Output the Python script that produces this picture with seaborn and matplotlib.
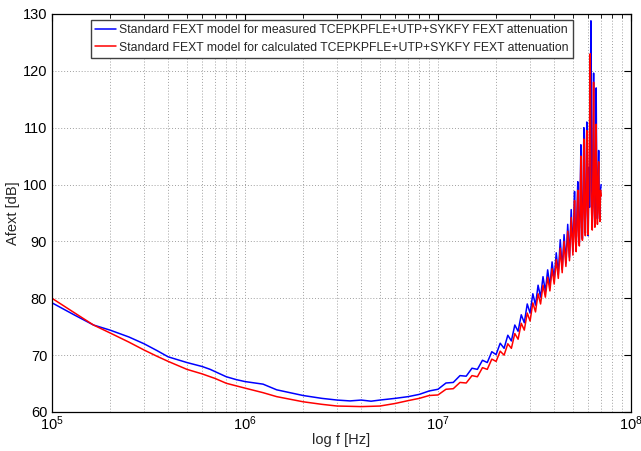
import matplotlib
matplotlib.use("Agg")
import matplotlib.pyplot as plt
import matplotlib.ticker as mticker
import numpy as np
import pandas as pd
import seaborn as sns

# ---- data ----
# smooth part (frequency in Hz)
freq_low_hz = [1.0e5, 1.3e5, 1.64e5, 2.0e5, 2.5e5, 3.0e5, 3.5e5, 4.0e5, 5.0e5, 6.0e5,
               6.6e5, 7.0e5, 8.0e5, 9.0e5, 1.0e6, 1.24e6, 1.46e6, 2.0e6, 2.5e6, 3.0e6,
               3.5e6, 4.0e6, 4.5e6, 5.0e6, 6.0e6, 7.0e6, 8.0e6, 9.0e6]
blue_low = [79.2, 77.1, 75.3, 74.4, 73.2, 72.0, 70.8, 69.7, 68.7, 68.0,
            67.5, 67.1, 66.2, 65.7, 65.35, 64.9, 63.9, 62.9, 62.4, 62.1,
            61.95, 62.1, 61.9, 62.1, 62.4, 62.7, 63.1, 63.7]
red_low = [80.0, 77.5, 75.3, 73.9, 72.3, 70.9, 69.8, 68.9, 67.5, 66.7,
           66.2, 65.9, 65.05, 64.6, 64.2, 63.4, 62.7, 61.8, 61.35, 61.05,
           61.0, 60.95, 61.0, 61.05, 61.5, 62.0, 62.4, 62.9]

# rippled part (frequency in MHz): 1 MHz steps up to 49 MHz
freq_mid_mhz = [10, 11, 12, 13, 14, 15, 16, 17, 18, 19,
                20, 21, 22, 23, 24, 25, 26, 27, 28, 29,
                30, 31, 32, 33, 34, 35, 36, 37, 38, 39,
                40, 41, 42, 43, 44, 45, 46, 47, 48, 49]
blue_mid = [64.0, 65.1, 65.2, 66.4, 66.3, 67.7, 67.5, 69.1, 68.7, 70.6,
            70.1, 72.1, 71.2, 73.5, 72.5, 75.3, 74.2, 77.1, 75.7, 79.0,
            77.4, 80.8, 78.8, 82.3, 80.2, 83.8, 81.2, 85.0, 82.1, 86.4,
            83.3, 88.0, 84.2, 90.3, 85.1, 91.2, 86.2, 93.0, 87.2, 95.6]
red_mid = [63.0, 64.0, 64.1, 65.2, 65.1, 66.4, 66.2, 67.8, 67.5, 69.3,
           68.9, 70.7, 70.0, 72.0, 71.2, 73.8, 72.8, 75.6, 74.4, 77.4,
           76.0, 79.2, 77.6, 80.8, 79.0, 82.3, 80.2, 83.7, 81.3, 85.2,
           82.5, 86.8, 83.5, 88.8, 84.5, 90.0, 85.6, 91.8, 86.6, 94.2]

# spiky part (frequency in MHz): 0.5 MHz steps from 50 to 70 MHz
freq_high_mhz = [50.0, 50.5, 51.0, 51.5, 52.0, 52.5, 53.0, 53.5, 54.0, 54.5,
                 55.0, 55.5, 56.0, 56.5, 57.0, 57.5, 58.0, 58.5, 59.0, 59.5,
                 60.0, 60.5, 61.0, 61.5, 62.0, 62.5, 63.0, 63.5, 64.0, 64.5,
                 65.0, 65.5, 66.0, 66.5, 67.0, 67.5, 68.0, 68.5, 69.0, 69.5, 70.0]
blue_high = [88.3, 93.5, 98.8, 91.0, 88.9, 95.0, 100.5, 92.0, 89.8, 97.0,
             107.0, 93.5, 90.5, 99.0, 110.0, 95.0, 91.5, 101.0, 111.0, 96.0,
             91.0, 103.0, 96.0, 112.0, 128.8, 98.0, 92.5, 104.0, 119.6, 97.0,
             93.0, 102.0, 117.0, 98.0, 94.0, 100.0, 106.0, 96.0, 94.5, 99.0, 100.0]
red_high = [87.6, 92.5, 97.2, 90.0, 88.2, 94.0, 99.0, 91.0, 89.2, 96.0,
            105.0, 92.5, 90.2, 98.0, 108.0, 94.0, 91.0, 100.0, 109.5, 95.5,
            91.2, 102.0, 110.0, 123.0, 99.0, 95.0, 92.0, 103.0, 118.0, 96.0,
            92.5, 104.0, 110.6, 97.0, 93.0, 101.0, 104.0, 95.0, 93.5, 99.0, 98.0]

label_meas = "Standard FEXT model for measured TCEPKPFLE+UTP+SYKFY FEXT attenuation"
label_calc = "Standard FEXT model for calculated TCEPKPFLE+UTP+SYKFY FEXT attenuation"
x_ticks = [1e5, 1e6, 1e7, 1e8]
x_tick_labels = ["$10^{5}$", "$10^{6}$", "$10^{7}$", "$10^{8}$"]
y_ticks = [60, 70, 80, 90, 100, 110, 120, 130]

# ---- build table ----
freq_all = (list(freq_low_hz) + [m * 1e6 for m in freq_mid_mhz]
            + [m * 1e6 for m in freq_high_mhz])
df = pd.concat([
    pd.DataFrame({"f": freq_all, "A": list(blue_low) + list(blue_mid) + list(blue_high),
                  "s": label_meas}),
    pd.DataFrame({"f": freq_all, "A": list(red_low) + list(red_mid) + list(red_high),
                  "s": label_calc}),
], ignore_index=True)

sns.set_style("white")
plt.rcParams["font.family"] = ["Liberation Sans", "DejaVu Sans"]
plt.rcParams["mathtext.default"] = "regular"

fig = plt.figure(figsize=(6.41, 4.51), dpi=100)
ax = fig.add_axes([52 / 641, 1 - 412 / 451, (631 - 52) / 641, (412 - 14) / 451])

sns.lineplot(data=df, x="f", y="A", hue="s", palette=["#0000ff", "#ff0000"],
             estimator=None, linewidth=1.1, ax=ax, legend=True)

ax.set_xscale("log")
ax.set_xlim(1e5, 1e8)
ax.set_ylim(60, 130)
ax.set_xticks(x_ticks)
ax.set_xticklabels(x_tick_labels)
ax.xaxis.set_minor_locator(mticker.LogLocator(base=10, subs=np.arange(2, 10)))
ax.xaxis.set_minor_formatter(mticker.NullFormatter())
ax.set_yticks(y_ticks)

ax.grid(True, which="major", axis="both", color="#a0a0a0", linestyle=(0, (1, 2)), linewidth=0.7)
ax.grid(True, which="minor", axis="x", color="#a0a0a0", linestyle=(0, (1, 2)), linewidth=0.7)

ax.tick_params(axis="both", which="both", direction="in", top=True, right=True,
               labelsize=10.5, colors="black")
ax.tick_params(axis="both", which="major", length=5, width=0.8)
ax.tick_params(axis="x", which="minor", length=3, width=0.6)
ax.tick_params(axis="x", which="major", pad=2)
for sp in ax.spines.values():
    sp.set_visible(True)
    sp.set_color("black")
    sp.set_linewidth(0.9)

ax.set_xlabel("log f [Hz]", fontsize=10.5, labelpad=0)
ax.set_ylabel("Afext [dB]", fontsize=10.5, labelpad=2)

leg = ax.legend(loc="upper right", bbox_to_anchor=((573 - 52) / (631 - 52), 0.985),
                fontsize=8.8, frameon=True, fancybox=False, handlelength=1.7,
                handletextpad=0.3, borderpad=0.35, labelspacing=0.45, borderaxespad=0)
leg.get_frame().set_edgecolor("#404040")
leg.get_frame().set_linewidth(1.0)
leg.get_frame().set_facecolor("white")
leg.get_frame().set_alpha(1.0)

fig.savefig("out.png", dpi=100)
